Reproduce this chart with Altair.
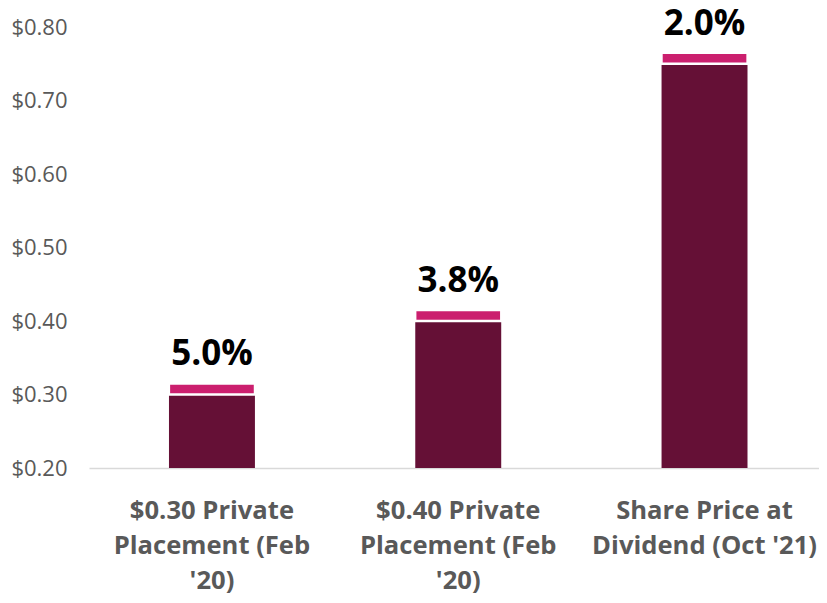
import altair as alt
import pandas as pd

categories = ["$0.30 Private|Placement (Feb|'20)", "$0.40 Private|Placement (Feb|'20)", "Share Price at|Dividend (Oct '21)"]
share_price = [0.30, 0.40, 0.75]
dividend = [0.015, 0.015, 0.015]
yield_labels = ["5.0%", "3.8%", "2.0%"]
axis_min = 0.20

df = pd.DataFrame({
    "cat": categories,
    "base0": [axis_min] * 3,
    "price": share_price,
    "top": [p + d for p, d in zip(share_price, dividend)],
    "label": yield_labels,
})

FONT = "Open Sans"
x = alt.X("cat:N", sort=categories, title=None,
          scale=alt.Scale(paddingInner=0.651, paddingOuter=0.3075, align=0.528),
          axis=alt.Axis(labelAngle=0, labelExpr="split(datum.value, '|')",
                        labelFont=FONT, labelFontSize=25.6, labelFontWeight="bold",
                        labelColor="#595959", labelLineHeight=35, labelPadding=30,
                        labelLimit=0, ticks=False, domainColor="#d9d9d9", domainWidth=1.5,
                        labelBaseline="top"))
yscale = alt.Scale(domain=[0.2, 0.8], nice=False, zero=False)
yaxis = alt.Axis(values=[0.2, 0.3, 0.4, 0.5, 0.6, 0.7, 0.8], format="$.2f",
                 labelFont=FONT, labelFontSize=22, labelColor="#595959",
                 labelPadding=22, ticks=False, domain=False, grid=False)

base = alt.Chart(df).mark_bar(color="#651036").encode(
    x=x,
    y=alt.Y("base0:Q", scale=yscale, axis=yaxis, title=None),
    y2="price:Q",
)
div = alt.Chart(df).mark_bar(color="#CB1F6E", stroke="white", strokeWidth=2.3).encode(
    x=x, y=alt.Y("price:Q", scale=yscale), y2="top:Q",
)
txt = alt.Chart(df).mark_text(font=FONT, fontSize=35, fontWeight="bold", color="black",
                              baseline="alphabetic", dy=-18).encode(
    x=x, y=alt.Y("top:Q", scale=yscale), text="label:N",
)

chart = alt.layer(base, div, txt).properties(
    width=730, height=441,
    background="white",
    autosize=alt.AutoSizeParams(type="none"),
    padding={"left": 81, "top": 19, "right": 0, "bottom": 127},
).configure_view(stroke=None, strokeWidth=0)

chart.save("out.html", embed_options={"renderer": "svg", "actions": False})
